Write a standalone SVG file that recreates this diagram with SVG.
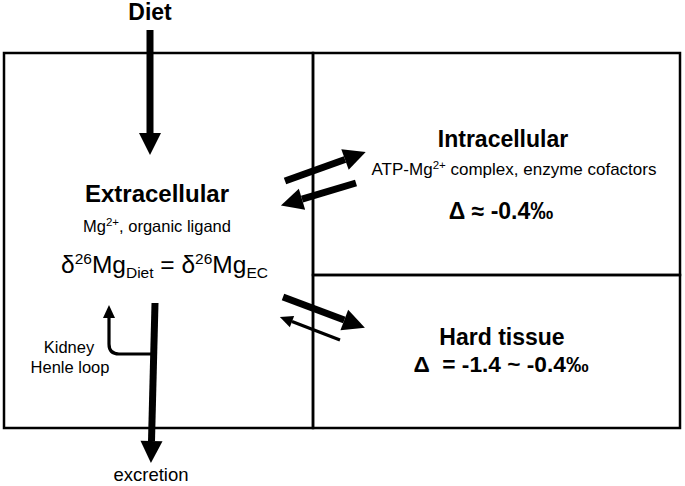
<svg xmlns="http://www.w3.org/2000/svg" width="685" height="486" viewBox="0 0 685 486">
<style>
  .box{fill:none;stroke:#000;stroke-width:2.5}
  .t{font-family:"Liberation Sans",Arial,sans-serif;fill:#000}
  .h{font-weight:bold;font-size:23px}
  .s{font-size:16.5px}
  .thick{stroke:#000;stroke-width:7;fill:none}
  .thin{stroke:#000;stroke-width:3.2;fill:none}
</style>
<defs>
  <marker id="bigHead" markerUnits="userSpaceOnUse" viewBox="0 -11 22 22" markerWidth="22" markerHeight="22" refX="0" refY="0" orient="auto" overflow="visible">
    <path d="M0,-11 L22,0 L0,11 z" fill="#000"/>
  </marker>
  <marker id="smallHead" markerUnits="userSpaceOnUse" viewBox="0 -6 13 12" markerWidth="13" markerHeight="12" refX="0" refY="0" orient="auto" overflow="visible">
    <path d="M0,-6 L13,0 L0,6 z" fill="#000"/>
  </marker>
</defs>
<rect width="685" height="486" fill="#fff"/>

<g id="extracellular">
  <rect class="box" x="4" y="53" width="309" height="375"/>
  <text class="t h" x="157" y="202" text-anchor="middle" style="font-size:24px">Extracellular</text>
  <text class="t s" x="157" y="232" text-anchor="middle">Mg<tspan font-size="11.5" dy="-6">2+</tspan><tspan dy="6">, organic ligand</tspan></text>
  <text class="t" x="61" y="273" font-size="24.5">δ<tspan font-size="15.5" dy="-9">26</tspan><tspan dy="9">Mg</tspan><tspan font-size="15.5" dy="5">Diet</tspan><tspan dy="-5"> = δ</tspan><tspan font-size="15.5" dy="-9">26</tspan><tspan dy="9">Mg</tspan><tspan font-size="15.5" dy="5">EC</tspan></text>
</g>

<g id="intracellular">
  <rect class="box" x="313" y="53" width="367" height="222"/>
  <text class="t h" x="503" y="147" text-anchor="middle">Intracellular</text>
  <text class="t s" x="514" y="175" text-anchor="middle" style="font-size:17px">ATP-Mg<tspan font-size="11.5" dy="-6">2+</tspan><tspan dy="6"> complex, enzyme cofactors</tspan></text>
  <text class="t h" x="501" y="219" text-anchor="middle">Δ ≈ -0.4‰</text>
</g>

<g id="hard-tissue">
  <rect class="box" x="313" y="275" width="367" height="153"/>
  <text class="t h" x="502" y="345" text-anchor="middle">Hard tissue</text>
  <text class="t h" x="501" y="372" text-anchor="middle" style="font-size:22.7px" xml:space="preserve">Δ  = -1.4 ~ -0.4‰</text>
</g>

<g id="diet">
  <text class="t h" x="150" y="20" text-anchor="middle">Diet</text>
</g>

<g id="excretion">
  <text class="t" x="151" y="481" text-anchor="middle" font-size="18.5">excretion</text>
</g>

<g id="kidney">
  <text class="t s" x="69" y="353" text-anchor="middle">Kidney</text>
  <text class="t s" x="70" y="373" text-anchor="middle">Henle loop</text>
</g>

<g id="connectors">
  <line class="thick" x1="150" y1="30" x2="150" y2="133" marker-end="url(#bigHead)"/>
  <line class="thick" x1="285" y1="181" x2="345" y2="159.5" marker-end="url(#bigHead)"/>
  <line class="thick" x1="356" y1="183" x2="302" y2="199.2" marker-end="url(#bigHead)"/>
  <line class="thick" x1="283" y1="297" x2="344.3" y2="320" marker-end="url(#bigHead)"/>
  <line class="thin" x1="340" y1="340" x2="292" y2="321.6" marker-end="url(#smallHead)"/>
  <line class="thick" x1="155" y1="303" x2="151.5" y2="441" marker-end="url(#bigHead)"/>
  <path class="thin" d="M153,354 H119 Q109,354 109,344 V318" stroke-width="3.5" marker-end="url(#smallHead)"/>
</g>
</svg>
